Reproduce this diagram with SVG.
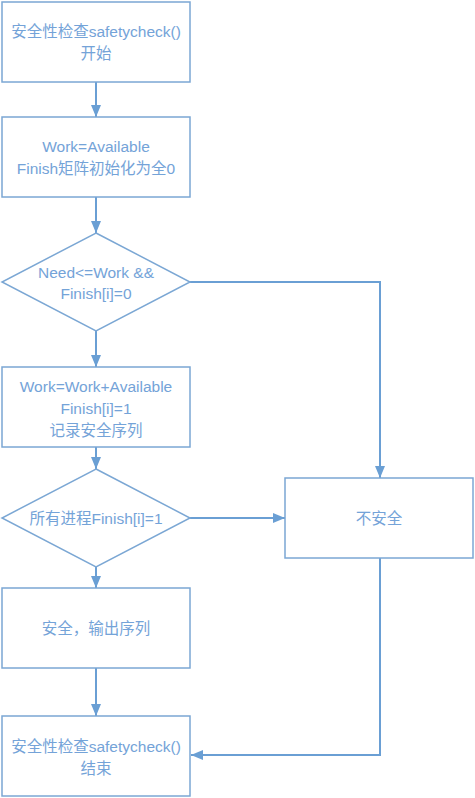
<svg xmlns="http://www.w3.org/2000/svg" width="475" height="798" viewBox="0 0 475 798">
<defs>
<style>
.n{fill:#fff;stroke:#7ba7d4;stroke-width:1.5}
.t{font-family:"Liberation Sans","Noto Sans CJK SC",sans-serif;font-size:15.5px;fill:#74a3d8;text-anchor:middle;dominant-baseline:central}
.c{fill:none;stroke:#6a9fd4;stroke-width:2}
</style>
<marker id="b" viewBox="0 0 12 10" refX="12" refY="5" markerWidth="12" markerHeight="10" markerUnits="userSpaceOnUse" orient="auto"><path d="M0,0L12,5L0,10z" fill="#6a9fd4"/></marker>
</defs>
<rect width="475" height="798" fill="#fff"/>
<g id="connectors">
<path class="c" d="M96,82V117" marker-end="url(#b)"/>
<path class="c" d="M96,197V233" marker-end="url(#b)"/>
<path class="c" d="M96,331V367" marker-end="url(#b)"/>
<path class="c" d="M96,447V469" marker-end="url(#b)"/>
<path class="c" d="M96,567V588" marker-end="url(#b)"/>
<path class="c" d="M96,668V716" marker-end="url(#b)"/>
<path class="c" d="M190,282H380V478" marker-end="url(#b)"/>
<path class="c" d="M190,518H285" marker-end="url(#b)"/>
<path class="c" d="M380,558V755H191" marker-end="url(#b)"/>
</g>
<g id="start"><rect class="n" x="2" y="2" width="188" height="80"/><text class="t" x="96" y="31">安全性检查safetycheck()</text><text class="t" x="96" y="53">开始</text></g>
<g id="init"><rect class="n" x="2" y="117" width="188" height="80"/><text class="t" x="96" y="146">Work=Available</text><text class="t" x="96" y="168">Finish矩阵初始化为全0</text></g>
<g id="cond1"><path class="n" d="M96,233L190,282L96,331L2,282Z"/><text class="t" x="96" y="272">Need&lt;=Work &amp;&amp;</text><text class="t" x="96" y="293">Finish[i]=0</text></g>
<g id="update"><rect class="n" x="2" y="367" width="188" height="80"/><text class="t" x="96" y="386">Work=Work+Available</text><text class="t" x="96" y="408">Finish[i]=1</text><text class="t" x="96" y="430">记录安全序列</text></g>
<g id="cond2"><path class="n" d="M96,469L190,518L96,567L2,518Z"/><text class="t" x="96" y="518">所有进程Finish[i]=1</text></g>
<g id="unsafe"><rect class="n" x="285" y="478" width="188" height="80"/><text class="t" x="379" y="518">不安全</text></g>
<g id="safe"><rect class="n" x="2" y="588" width="188" height="80"/><text class="t" x="96" y="628">安全，输出序列</text></g>
<g id="end"><rect class="n" x="2" y="716" width="188" height="80"/><text class="t" x="96" y="746">安全性检查safetycheck()</text><text class="t" x="96" y="768">结束</text></g>
</svg>
